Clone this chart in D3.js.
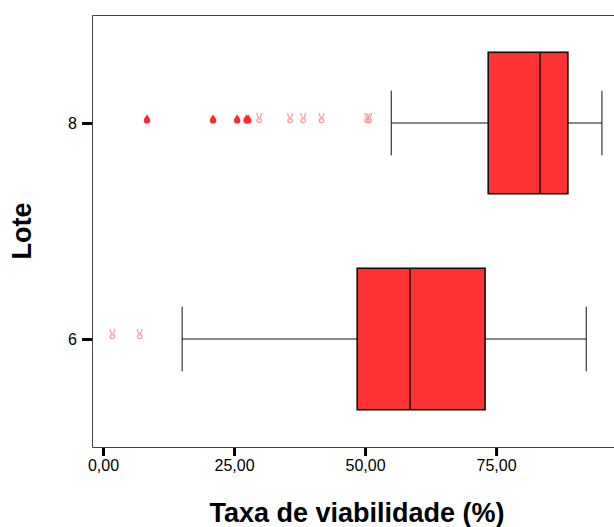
<!DOCTYPE html>
<html>
<head>
<meta charset="utf-8">
<script src="https://cdn.jsdelivr.net/npm/d3@7"></script>
<style>
  html, body { margin: 0; padding: 0; background: #fff; }
  svg { display: block; }
  text { font-family: "Liberation Sans", Arial, sans-serif; }
</style>
</head>
<body>
<svg id="chart" width="614" height="527"></svg>
<script>
// Lote categories and box-plot summaries of "Taxa de viabilidade (%)"
const lotes = [6, 8];
const q1 = [48.5, 73.5];
const medians = [58.6, 83.4];
const q3 = [72.9, 88.7];
const whiskerLow = [15.1, 55.0];
const whiskerHigh = [92.2, 95.2];

// Outliers (pale markers) and extreme values (filled drops)
const outliers = [
  { lote: 6, v: 1.8 }, { lote: 6, v: 7.0 },
  { lote: 8, v: 29.8 }, { lote: 8, v: 35.7 }, { lote: 8, v: 38.2 },
  { lote: 8, v: 41.7 }, { lote: 8, v: 50.4 }, { lote: 8, v: 50.8 }
];
const extremes = [
  { lote: 8, v: 8.4 }, { lote: 8, v: 21.0 }, { lote: 8, v: 25.6 },
  { lote: 8, v: 27.4 }, { lote: 8, v: 27.7 }
];

const xTicks = [0, 25, 50, 75];
const yTicks = [6, 8];

const svg = d3.select("#chart");
const plotLeft = 92, plotRight = 614, plotTop = 15, plotBottom = 447;

const x = d3.scaleLinear().domain([-2.1, 97.5]).range([plotLeft, plotRight]);
const y = d3.scaleLinear().domain([5, 9]).range([plotBottom, plotTop]);

const fmt = v => d3.format(".2f")(v).replace(".", ",");

// plot frame
svg.append("path")
  .attr("d", `M${plotRight + 10},${plotTop + 0.5} H${plotLeft + 0.5} V${plotBottom + 0.5} H${plotRight + 10}`)
  .attr("fill", "none").attr("stroke", "#444").attr("stroke-width", 1);

// x axis
const xAxis = svg.append("g")
  .attr("transform", `translate(0,${plotBottom + 1})`)
  .call(d3.axisBottom(x).tickValues(xTicks).tickFormat(fmt).tickSize(8).tickPadding(4));
xAxis.select(".domain").remove();
xAxis.selectAll(".tick line").attr("stroke", "#000").attr("stroke-width", 3);
xAxis.selectAll(".tick text").attr("font-size", 16).attr("fill", "#000");

// y axis
const yAxis = svg.append("g")
  .attr("transform", `translate(${plotLeft},0)`)
  .call(d3.axisLeft(y).tickValues(yTicks).tickFormat(d3.format("d")).tickSize(10).tickPadding(5));
yAxis.select(".domain").remove();
yAxis.selectAll(".tick line").attr("stroke", "#000").attr("stroke-width", 3);
yAxis.selectAll(".tick text").attr("font-size", 16).attr("fill", "#000");

// box plots
const boxHalf = 0.655;   // in lote units
const capHalf = 0.3;
const boxes = lotes.map((l, i) => ({
  lote: l, q1: q1[i], med: medians[i], q3: q3[i], lo: whiskerLow[i], hi: whiskerHigh[i]
}));

const g = svg.append("g");
const b = g.selectAll("g.box").data(boxes).join("g").attr("class", "box");

// whisker lines
b.append("line")
  .attr("x1", d => x(d.lo)).attr("x2", d => x(d.q1))
  .attr("y1", d => y(d.lote)).attr("y2", d => y(d.lote))
  .attr("stroke", "#111").attr("stroke-width", 1);
b.append("line")
  .attr("x1", d => x(d.q3)).attr("x2", d => x(d.hi))
  .attr("y1", d => y(d.lote)).attr("y2", d => y(d.lote))
  .attr("stroke", "#111").attr("stroke-width", 1);
// caps
b.append("line")
  .attr("x1", d => x(d.lo)).attr("x2", d => x(d.lo))
  .attr("y1", d => y(d.lote + capHalf)).attr("y2", d => y(d.lote - capHalf))
  .attr("stroke", "#111").attr("stroke-width", 1);
b.append("line")
  .attr("x1", d => x(d.hi)).attr("x2", d => x(d.hi))
  .attr("y1", d => y(d.lote + capHalf)).attr("y2", d => y(d.lote - capHalf))
  .attr("stroke", "#111").attr("stroke-width", 1);
// box
b.append("rect")
  .attr("x", d => x(d.q1)).attr("width", d => x(d.q3) - x(d.q1))
  .attr("y", d => y(d.lote + boxHalf)).attr("height", d => y(d.lote - boxHalf) - y(d.lote + boxHalf))
  .attr("fill", "#ff3333").attr("stroke", "#111").attr("stroke-width", 1.6);
// median
b.append("line")
  .attr("x1", d => x(d.med)).attr("x2", d => x(d.med))
  .attr("y1", d => y(d.lote + boxHalf)).attr("y2", d => y(d.lote - boxHalf))
  .attr("stroke", "#3a1010").attr("stroke-width", 1.6);

// outlier markers (pale "victory" shaped glyph)
const vGlyph = "M-2.6,-5 L-0.6,0.6 M2.6,-5 L0.6,0.6 M0,1 m-2.3,1.6 a2.3,2 0 1,0 4.6,0 a2.3,2 0 1,0 -4.6,0";
g.selectAll("path.outlier").data(outliers).join("path")
  .attr("class", "outlier")
  .attr("d", vGlyph)
  .attr("transform", d => `translate(${x(d.v)},${y(d.lote) - 5})`)
  .attr("fill", "none")
  .attr("stroke", "#ff7b7b").attr("stroke-opacity", 0.75).attr("stroke-width", 1.3);

// extreme markers (filled drop)
const drop = "M0,-4.5 C1.2,-2.5 3.3,-0.6 3.3,1.4 A3.3,3.1 0 1,1 -3.3,1.4 C-3.3,-0.6 -1.2,-2.5 0,-4.5 Z";
g.selectAll("path.extreme").data(extremes).join("path")
  .attr("class", "extreme")
  .attr("d", drop)
  .attr("transform", d => `translate(${x(d.v)},${y(d.lote) - 4})`)
  .attr("fill", "#ff2a2a");

// axis titles
svg.append("text")
  .attr("x", (plotLeft + plotRight) / 2 + 4).attr("y", 522)
  .attr("text-anchor", "middle")
  .attr("font-size", 27).attr("font-weight", "bold")
  .text("Taxa de viabilidade (%)");
svg.append("text")
  .attr("transform", `translate(31,${(plotTop + plotBottom) / 2}) rotate(-90)`)
  .attr("text-anchor", "middle")
  .attr("font-size", 27).attr("font-weight", "bold")
  .text("Lote");
</script>
</body>
</html>
